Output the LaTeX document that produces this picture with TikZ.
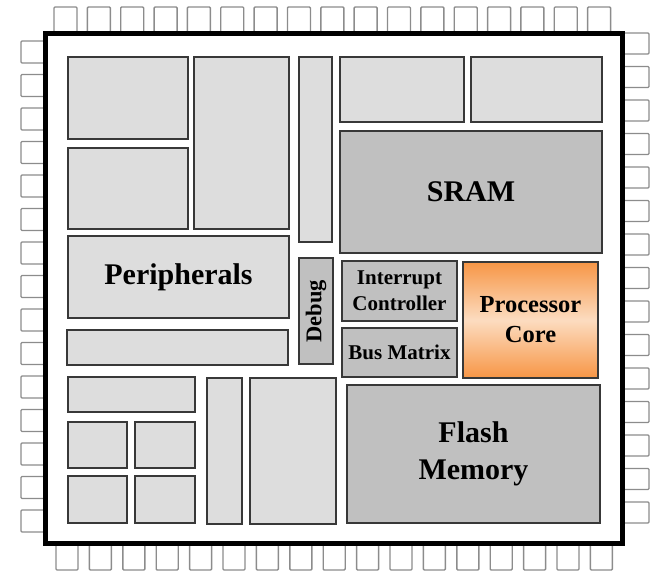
\documentclass[tikz,border=0pt]{standalone}
\usepackage{fontspec}
\setmainfont{Liberation Serif}

\definecolor{lightblk}{HTML}{DDDDDD}
\definecolor{darkblk}{HTML}{C0C0C0}
\definecolor{blkline}{HTML}{383838}
\definecolor{pinline}{HTML}{8C8C8C}
\definecolor{coreedge}{HTML}{F79646}
\definecolor{coremid}{HTML}{FCDCC0}

\tikzset{
  block/.style={draw=blkline, line width=1.8pt, fill=lightblk, inner sep=0pt, align=center, font=\bfseries},
  darkblock/.style={block, fill=darkblk},
  corebox/.style={block, top color=coreedge, bottom color=coreedge, middle color=coremid},
  pin/.style={draw=pinline, line width=1.4pt, fill=white, rounded corners=1pt},
  chip/.style={draw=black, line width=4.5pt, fill=white, inner sep=0pt},
  bigfont/.style={font=\bfseries\fontsize{30}{37}\selectfont},
  midfont/.style={font=\bfseries\fontsize{24.5}{30}\selectfont},
  smallfont/.style={font=\bfseries\fontsize{21}{26}\selectfont},
}

\begin{document}
\begin{tikzpicture}[x=1pt, y=-1pt]
    \useasboundingbox (0,0) rectangle (654,572);

    % Pins
    \foreach \i in {0,...,16} \draw[pin] ({54+33.35*\i},7) rectangle ++(23,27);
    \foreach \i in {0,...,16} \draw[pin] ({56+33.4*\i},543) rectangle ++(22,27);
    \foreach \i in {0,...,14} \draw[pin] (21,{41+33.5*\i}) rectangle ++(25,22);
    \foreach \i in {0,...,14} \draw[pin] (622,{33+33.5*\i}) rectangle ++(27,21);

    % Package
    \node[chip, minimum width=577pt, minimum height=510pt] (chip) at (334,288.5) {};

    % Top row
    \node[block, minimum width=120pt, minimum height=82pt] (blkA) at (128,98) {};
    \node[block, minimum width=95pt, minimum height=172pt] (blkB) at (241.5,143) {};
    \node[block, minimum width=33pt, minimum height=185pt] (blkC) at (315.5,149.5) {};
    \node[block, minimum width=124pt, minimum height=65pt] (blkD) at (402,89.5) {};
    \node[block, minimum width=131pt, minimum height=65pt] (blkE) at (536.5,89.5) {};
    \node[block, minimum width=120pt, minimum height=81pt] (blkF) at (128,188.5) {};
    \node[darkblock, bigfont, minimum width=262pt, minimum height=122pt] (sram) at (471,192) {SRAM};

    % Middle
    \node[block, bigfont, minimum width=221pt, minimum height=82pt] (periph) at (178.5,277) {Peripherals};
    \node[darkblock, font=\bfseries\fontsize{22.5}{26}\selectfont, rotate=90, minimum width=106pt, minimum height=34pt] (debug) at (316,311) {Debug};
    \node[darkblock, smallfont, minimum width=115pt, minimum height=60pt] (irq) at (399.5,291) {Interrupt\\Controller};
    \node[darkblock, smallfont, minimum width=115pt, minimum height=49pt] (busmx) at (399.5,352.5) {Bus Matrix};
    \node[corebox, midfont, minimum width=135pt, minimum height=116pt] (core) at (530.5,320) {Processor\\Core};
    \node[block, minimum width=221pt, minimum height=35pt] (blkG) at (177.5,347.5) {};

    % Bottom row
    \node[block, minimum width=127pt, minimum height=35pt] (blkH) at (131.5,394.5) {};
    \node[block, minimum width=59pt, minimum height=46pt] (sm1) at (97.5,445) {};
    \node[block, minimum width=60pt, minimum height=46pt] (sm2) at (165,445) {};
    \node[block, minimum width=59pt, minimum height=47pt] (sm3) at (97.5,499.5) {};
    \node[block, minimum width=60pt, minimum height=47pt] (sm4) at (165,499.5) {};
    \node[block, minimum width=35pt, minimum height=146pt] (blkJ) at (224.5,451) {};
    \node[block, minimum width=86pt, minimum height=146pt] (blkK) at (293,451) {};
    \node[darkblock, bigfont, minimum width=253pt, minimum height=138pt] (flash) at (473.5,454) {Flash\\Memory};
\end{tikzpicture}
\end{document}
